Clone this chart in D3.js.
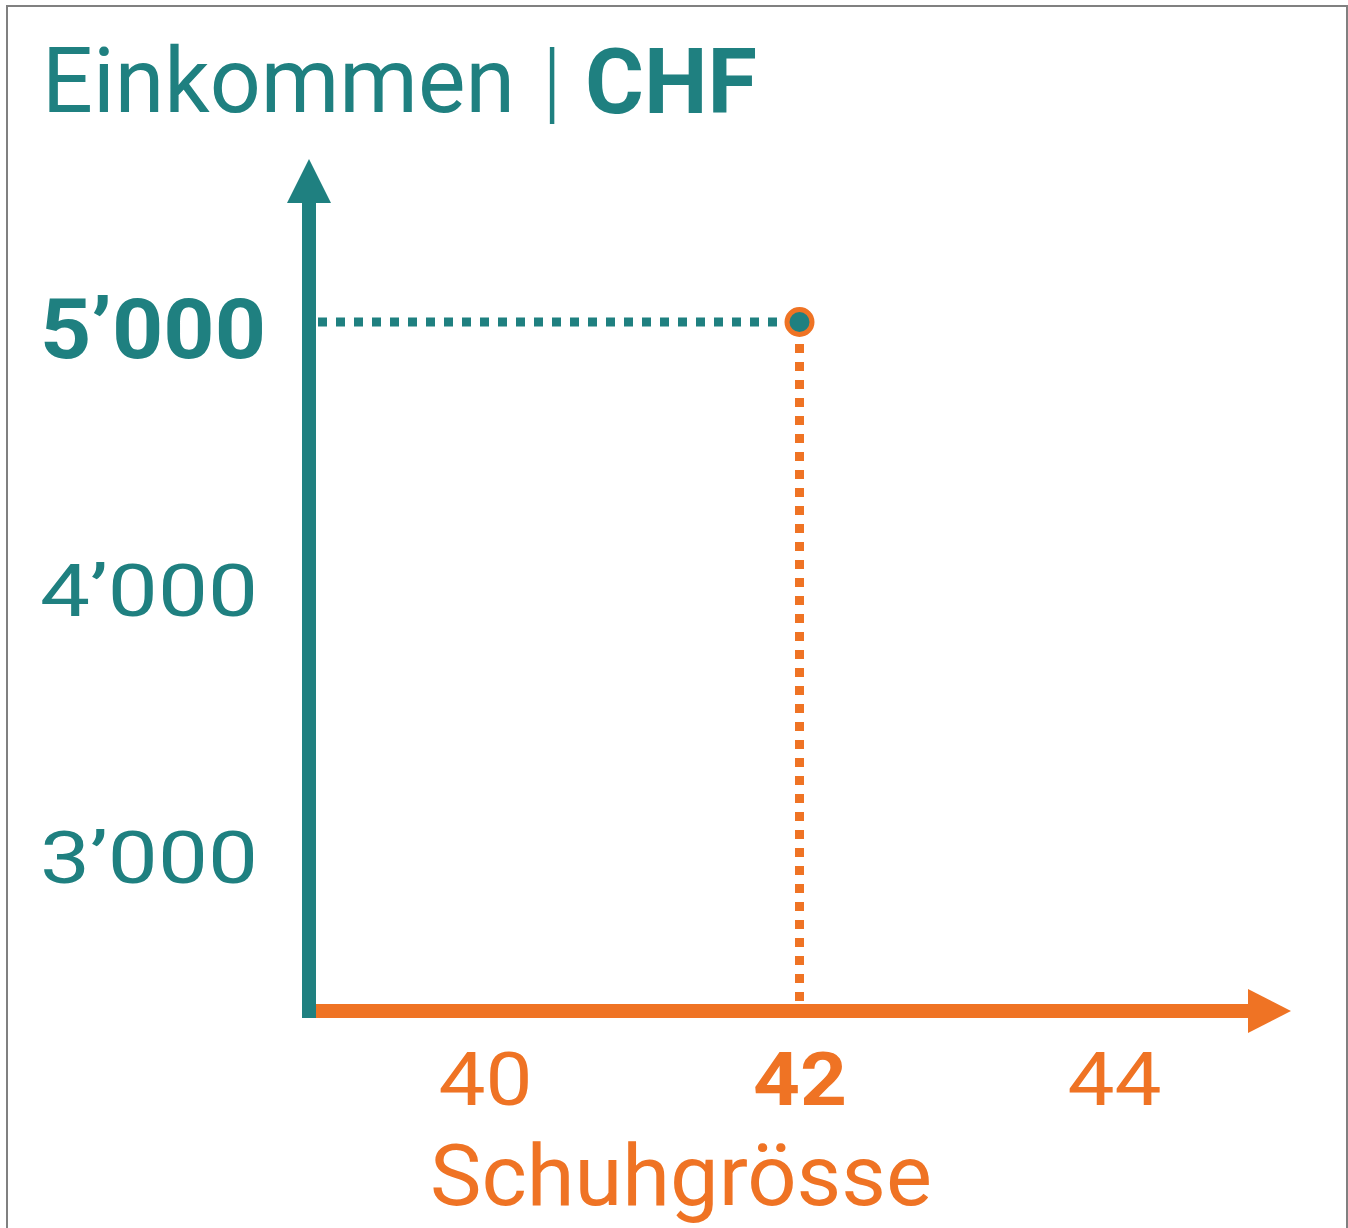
<!DOCTYPE html>
<html>
<head>
<meta charset="utf-8">
<script src="https://cdn.jsdelivr.net/npm/d3@7"></script>
<style>
  body { margin: 0; background: #fff; }
  svg { display: block; font-family: Roboto, "Open Sans", sans-serif; }
</style>
</head>
<body>
<div id="chart"></div>
<script>
// data
const shoeTicks = [40, 42, 44];
const incomeTicks = [3000, 4000, 5000];
const shoeSize = [42];
const income = [5000];
const titleMain = "Einkommen";
const titleUnit = "CHF";
const xTitle = "Schuhgrösse";

const teal = "#1f8080";
const orange = "#ef7324";

const width = 1348, height = 1228;

// axis frame (pixels)
const originX = 309, originY = 1011;
const yTop = 202, yTip = 159;
const xEnd = 1248, xTip = 1291;

const x = d3.scaleLinear().domain([40, 44]).range([485, 1114]);
const y = d3.scaleLinear().domain([3000, 5000]).range([856, 322]);

const fmt = d => d3.format(",")(d).replace(",", "\u2019");

const svg = d3.select("#chart").append("svg")
  .attr("width", width)
  .attr("height", height);

// grey frame, open at the bottom
svg.append("rect")
  .attr("x", 7).attr("y", 6)
  .attr("width", 1340).attr("height", 1300)
  .attr("fill", "none")
  .attr("stroke", "#808080")
  .attr("stroke-width", 2);

// title
svg.append("text")
  .attr("x", 42).attr("y", 112)
  .attr("fill", teal)
  .attr("font-size", 90)
  .attr("textLength", 473)
  .attr("lengthAdjust", "spacingAndGlyphs")
  .text(titleMain);
svg.append("text")
  .attr("x", 552).attr("y", 112)
  .attr("fill", teal)
  .attr("font-size", 90)
  .attr("font-weight", 300)
  .attr("text-anchor", "middle")
  .text("|");
svg.append("text")
  .attr("x", 585).attr("y", 113)
  .attr("fill", teal)
  .attr("font-size", 90)
  .attr("font-weight", 700)
  .attr("textLength", 172)
  .attr("lengthAdjust", "spacingAndGlyphs")
  .text(titleUnit);

// dotted guides to the point
const g = svg.append("g");
g.append("line")
  .attr("x1", originX + 9).attr("x2", x(shoeSize[0]) - 14)
  .attr("y1", y(income[0])).attr("y2", y(income[0]))
  .attr("stroke", teal)
  .attr("stroke-width", 9)
  .attr("stroke-dasharray", "9,9");
g.append("line")
  .attr("x1", x(shoeSize[0])).attr("x2", x(shoeSize[0]))
  .attr("y1", y(income[0]) + 22).attr("y2", originY - 7)
  .attr("stroke", orange)
  .attr("stroke-width", 9)
  .attr("stroke-dasharray", "9,9");

// y axis with arrow
svg.append("rect")
  .attr("x", originX - 7).attr("y", yTop)
  .attr("width", 14).attr("height", originY + 7 - yTop)
  .attr("fill", teal);
svg.append("path")
  .attr("d", `M${originX - 22},${yTop + 1}L${originX},${yTip}L${originX + 22},${yTop + 1}Z`)
  .attr("fill", teal);

// x axis with arrow
svg.append("rect")
  .attr("x", originX + 7).attr("y", originY - 7)
  .attr("width", xEnd - originX - 6).attr("height", 14)
  .attr("fill", orange);
svg.append("path")
  .attr("d", `M${xEnd},${originY - 22}L${xTip},${originY}L${xEnd},${originY + 22}Z`)
  .attr("fill", orange);

// point
svg.selectAll(".pt")
  .data(shoeSize.map((s, i) => [s, income[i]]))
  .join("circle")
  .attr("class", "pt")
  .attr("cx", d => x(d[0]))
  .attr("cy", d => y(d[1]))
  .attr("r", 12.5)
  .attr("fill", teal)
  .attr("stroke", orange)
  .attr("stroke-width", 5);

// y tick labels
const yAxis = d3.axisLeft(y).tickValues(incomeTicks).tickFormat(fmt).tickSize(0);
svg.append("g")
  .attr("transform", "translate(40,0)")
  .call(yAxis)
  .call(g => g.select(".domain").remove())
  .call(g => g.selectAll("text")
    .attr("x", 0)
    .attr("dy", d => d === income[0] ? "0.42em" : "0.36em")
    .attr("text-anchor", "start")
    .attr("fill", teal)
    .attr("font-family", "Roboto, sans-serif")
    .attr("font-size", d => d === income[0] ? 84 : 73)
    .attr("font-weight", d => d === income[0] ? 700 : 400)
    .attr("textLength", d => d === income[0] ? 226 : 218)
    .attr("lengthAdjust", "spacingAndGlyphs"));

// x tick labels
const xAxis = d3.axisBottom(x).tickValues(shoeTicks).tickFormat(d3.format("d")).tickSize(0);
svg.append("g")
  .attr("transform", "translate(0,1105)")
  .call(xAxis)
  .call(g => g.select(".domain").remove())
  .call(g => g.selectAll("text")
    .attr("y", 0)
    .attr("dy", 0)
    .attr("fill", orange)
    .attr("font-family", "Roboto, sans-serif")
    .attr("font-size", 75)
    .attr("font-weight", d => d === shoeSize[0] ? 700 : 400)
    .attr("textLength", 94)
    .attr("lengthAdjust", "spacingAndGlyphs"));

// x title
svg.append("text")
  .attr("x", 430).attr("y", 1205)
  .attr("fill", orange)
  .attr("font-size", 86)
  .attr("textLength", 502)
  .attr("lengthAdjust", "spacingAndGlyphs")
  .text(xTitle);
</script>
</body>
</html>
